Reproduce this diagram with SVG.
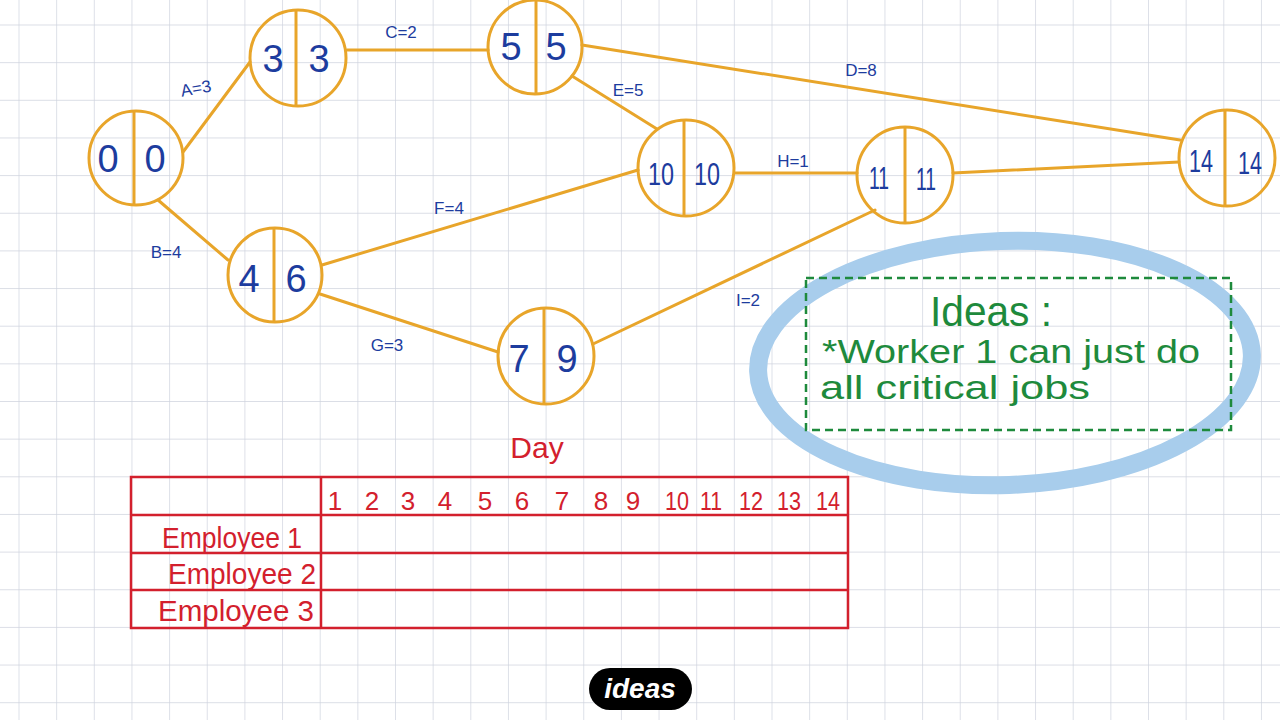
<svg xmlns="http://www.w3.org/2000/svg" width="1280" height="720" viewBox="0 0 1280 720">
<defs>
<pattern id="grid" x="18.5" y="24.5" width="37.65" height="37.65" patternUnits="userSpaceOnUse">
<path d="M0 0V37.65M0 0H37.65" fill="none" stroke="#cfd3de" stroke-width="1.4"/>
</pattern>
<style>
.node circle{fill:none;stroke:#e8a52a;stroke-width:3}
.node line{stroke:#e8a52a;stroke-width:3}
.num{font-family:"Liberation Sans",sans-serif;font-size:38px;fill:#1d3c9e;text-anchor:middle}
.num2{font-family:"Liberation Sans",sans-serif;font-size:32px;fill:#1d3c9e;text-anchor:middle}
.conn line{stroke:#e8a52a;stroke-width:3;stroke-linecap:round}
.lbl{font-family:"Liberation Sans",sans-serif;font-size:17px;fill:#1d3c9e;text-anchor:middle}
.red{font-family:"Liberation Sans",sans-serif;fill:#d3202d;text-anchor:middle}
.grn{font-family:"Liberation Sans",sans-serif;fill:#1e8a3c}
.tbl{fill:none;stroke:#d3202d;stroke-width:2.5}
</style>
</defs>
<rect width="1280" height="720" fill="#ffffff"/>
<rect width="1280" height="720" fill="url(#grid)"/>

<g id="connectors" class="conn">
<line x1="183" y1="152" x2="250" y2="62"/>
<line x1="158" y1="200" x2="228" y2="260"/>
<line x1="347" y1="50" x2="488" y2="50"/>
<line x1="582" y1="45" x2="1180" y2="140"/>
<line x1="572" y1="76" x2="657" y2="129"/>
<line x1="322" y1="265" x2="638" y2="170"/>
<line x1="320" y1="294" x2="498" y2="352"/>
<line x1="735" y1="173" x2="857" y2="173"/>
<line x1="593" y1="344" x2="875" y2="210"/>
<line x1="953" y1="173" x2="1179" y2="162"/>
</g>

<g id="edge-labels">
<text class="lbl" x="197" y="94" transform="rotate(-10 197 94)">A=3</text>
<text class="lbl" x="166" y="258">B=4</text>
<text class="lbl" x="401" y="38">C=2</text>
<text class="lbl" x="861" y="76">D=8</text>
<text class="lbl" x="628" y="96">E=5</text>
<text class="lbl" x="449" y="214">F=4</text>
<text class="lbl" x="387" y="351">G=3</text>
<text class="lbl" x="793" y="167">H=1</text>
<text class="lbl" x="748" y="306">I=2</text>
</g>

<g id="n0" class="node"><circle cx="136" cy="158" r="47"/><line x1="134" y1="111" x2="134" y2="205"/><text class="num" x="108" y="172">0</text><text class="num" x="155" y="172">0</text></g>
<g id="n3" class="node"><circle cx="298" cy="58" r="48"/><line x1="296" y1="10" x2="296" y2="106"/><text class="num" x="273" y="72">3</text><text class="num" x="319" y="72">3</text></g>
<g id="n5" class="node"><circle cx="535" cy="47" r="47"/><line x1="536" y1="0" x2="536" y2="94"/><text class="num" x="511" y="60">5</text><text class="num" x="556" y="60">5</text></g>
<g id="n46" class="node"><circle cx="275" cy="275" r="47"/><line x1="274" y1="228" x2="274" y2="322"/><text class="num" x="249" y="292">4</text><text class="num" x="296" y="292">6</text></g>
<g id="n79" class="node"><circle cx="546" cy="356" r="48"/><line x1="544" y1="308" x2="544" y2="404"/><text class="num" x="519" y="372">7</text><text class="num" x="567" y="372">9</text></g>
<g id="n10" class="node"><circle cx="686" cy="168" r="48"/><line x1="684" y1="120" x2="684" y2="216"/><text class="num2" x="661" y="185" textLength="26" lengthAdjust="spacingAndGlyphs">10</text><text class="num2" x="707" y="185" textLength="26" lengthAdjust="spacingAndGlyphs">10</text></g>
<g id="n11" class="node"><circle cx="905" cy="175" r="48"/><line x1="905" y1="127" x2="905" y2="223"/><text class="num2" x="879" y="189" textLength="20" lengthAdjust="spacingAndGlyphs">11</text><text class="num2" x="926" y="190" textLength="20" lengthAdjust="spacingAndGlyphs">11</text></g>
<g id="n14" class="node"><circle cx="1227" cy="158" r="48"/><line x1="1225" y1="110" x2="1225" y2="206"/><text class="num2" x="1201" y="172" textLength="24" lengthAdjust="spacingAndGlyphs">14</text><text class="num2" x="1250" y="174" textLength="24" lengthAdjust="spacingAndGlyphs">14</text></g>

<g id="ideas-note">
<ellipse cx="1005" cy="363" rx="247" ry="122" fill="none" stroke="#a8cdec" stroke-width="18" transform="rotate(-2 1005 363)"/>
<rect x="806" y="278" width="425" height="152" fill="none" stroke="#1e8a3c" stroke-width="2.5" stroke-dasharray="8 5"/>
<text class="grn" x="930" y="326" font-size="42" textLength="122" lengthAdjust="spacingAndGlyphs">Ideas :</text>
<text class="grn" x="822" y="363" font-size="34" textLength="378" lengthAdjust="spacingAndGlyphs">*Worker 1 can just do</text>
<text class="grn" x="820" y="399" font-size="34" textLength="270" lengthAdjust="spacingAndGlyphs">all  critical jobs</text>
</g>

<g id="schedule-table">
<text class="red" x="537" y="458" font-size="30">Day</text>
<rect class="tbl" x="131" y="477" width="717" height="151"/>
<line class="tbl" x1="321" y1="477" x2="321" y2="628"/>
<line class="tbl" x1="131" y1="515" x2="848" y2="515"/>
<line class="tbl" x1="131" y1="553" x2="848" y2="553"/>
<line class="tbl" x1="131" y1="590" x2="848" y2="590"/>
<g font-size="26">
<text class="red" x="335" y="510">1</text>
<text class="red" x="372" y="510">2</text>
<text class="red" x="408" y="510">3</text>
<text class="red" x="445" y="510">4</text>
<text class="red" x="485" y="510">5</text>
<text class="red" x="522" y="510">6</text>
<text class="red" x="562" y="510">7</text>
<text class="red" x="601" y="510">8</text>
<text class="red" x="633" y="510">9</text>
<text class="red" x="677" y="510" textLength="24" lengthAdjust="spacingAndGlyphs">10</text>
<text class="red" x="711" y="510" textLength="22" lengthAdjust="spacingAndGlyphs">11</text>
<text class="red" x="751" y="510" textLength="24" lengthAdjust="spacingAndGlyphs">12</text>
<text class="red" x="789" y="510" textLength="24" lengthAdjust="spacingAndGlyphs">13</text>
<text class="red" x="828" y="510" textLength="24" lengthAdjust="spacingAndGlyphs">14</text>
</g>
<text class="red" x="232" y="548" font-size="29" textLength="140" lengthAdjust="spacingAndGlyphs">Employee 1</text>
<text class="red" x="242" y="584" font-size="29" textLength="148" lengthAdjust="spacingAndGlyphs">Employee 2</text>
<text class="red" x="236" y="621" font-size="29" textLength="156" lengthAdjust="spacingAndGlyphs">Employee 3</text>
</g>

<g id="badge">
<rect x="589" y="668" width="103" height="42" rx="21" fill="#000"/>
<text x="640" y="698" font-family="Liberation Sans,sans-serif" font-size="28" font-weight="bold" font-style="italic" fill="#fff" text-anchor="middle">ideas</text>
</g>
</svg>
